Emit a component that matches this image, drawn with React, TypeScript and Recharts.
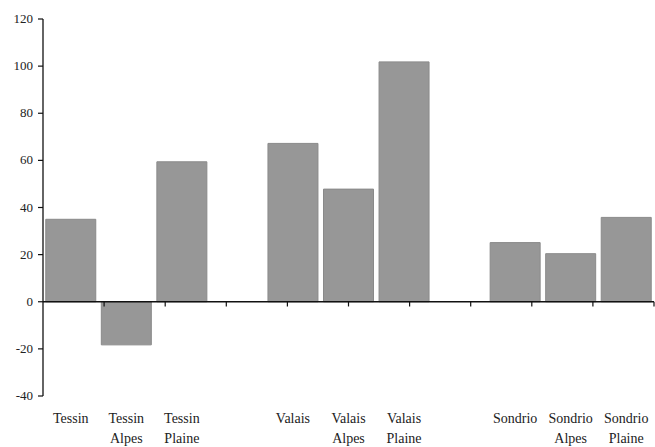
import React from "react";
import { BarChart, Bar, XAxis, YAxis, ReferenceLine } from "recharts";

const categories = [
  "Tessin",
  "Tessin\nAlpes",
  "Tessin\nPlaine",
  "",
  "Valais",
  "Valais\nAlpes",
  "Valais\nPlaine",
  "",
  "Sondrio",
  "Sondrio\nAlpes",
  "Sondrio\nPlaine",
];
const values: (number | null)[] = [35, -18.3, 59.4, null, 67.2, 47.8, 101.8, null, 25.1, 20.4, 35.8];
const yTicks = [-40, -20, 0, 20, 40, 60, 80, 100, 120];
const boundaries = [1, 2, 3, 4, 5, 6, 7, 8, 9, 10, 11];

const data = categories.map((c, i) => ({ name: c, value: values[i] }));

const FONT = "'Liberation Serif', 'DejaVu Serif', serif";

const XTick = (props: any) => {
  const { x, y, payload } = props;
  const lines = String(payload.value).split("\n");
  return (
    <g>
      {lines.map((l: string, i: number) => (
        <text
          key={i}
          x={x}
          y={y + 19 + i * 20}
          textAnchor="middle"
          style={{ fontFamily: FONT, fontSize: 14, fill: "#222" }}
        >
          {l}
        </text>
      ))}
    </g>
  );
};

const YTick = (props: any) => {
  const { x, y, payload } = props;
  return (
    <text
      x={x}
      y={y + 4}
      textAnchor="end"
      style={{ fontFamily: FONT, fontSize: 13, fill: "#222" }}
    >
      {payload.value}
    </text>
  );
};

export default function App() {
  return (
    <div style={{ position: "absolute", left: 0, top: 0 }}>
      <BarChart
        width={655}
        height={447}
        data={data}
        margin={{ top: 19, right: 1, bottom: 0, left: 0 }}
        barCategoryGap="5%"
      >
        <XAxis
          dataKey="name"
          axisLine={false}
          tickLine={false}
          interval={0}
          height={51}
          tick={<XTick />}
        />
        <XAxis xAxisId="n" type="number" domain={[0, 11]} allowDataOverflow hide />
        <YAxis
          domain={[-40, 120]}
          ticks={yTicks}
          width={43}
          tickSize={5}
          tickMargin={5}
          axisLine={{ stroke: "#111", strokeWidth: 1.3 }}
          tickLine={{ stroke: "#111", strokeWidth: 1.2 }}
          tick={<YTick />}
        />
        <Bar dataKey="value" fill="#979797" stroke="#8a8a8a" strokeWidth={1} isAnimationActive={false} />
        <ReferenceLine y={0} stroke="#111" strokeWidth={1.3} />
        {boundaries.map((b) => (
          <ReferenceLine
            key={b}
            xAxisId="n"
            segment={[
              { x: b, y: 0 },
              { x: b, y: -2 },
            ]}
            stroke="#111"
            strokeWidth={1.2}
          />
        ))}
      </BarChart>
    </div>
  );
}
